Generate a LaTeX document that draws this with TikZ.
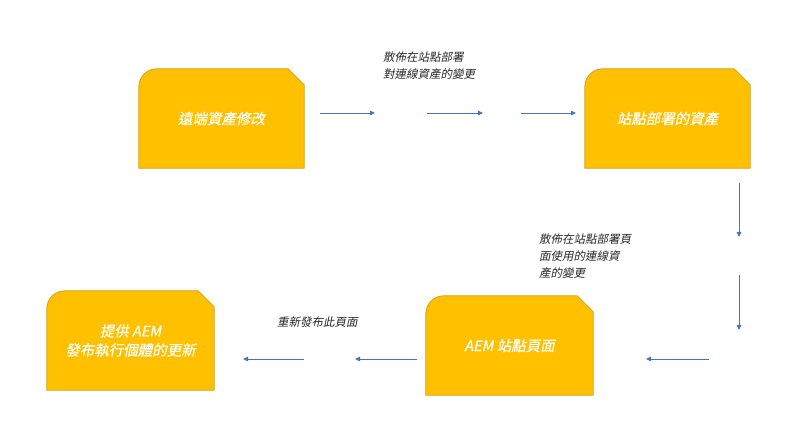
\documentclass[tikz,border=0pt]{standalone}
\usepackage{fontspec}
\newfontfamily\cjkit[FakeSlant=0.2,FakeBold=0.3]{Noto Sans CJK TC}
\newfontfamily\cjklb[FakeSlant=0.2]{Noto Sans CJK TC}
\usetikzlibrary{arrows.meta}
\definecolor{boxfill}{HTML}{FFC000}
\definecolor{boxline}{HTML}{D4A017}
\definecolor{arrowblue}{HTML}{4472C4}
\definecolor{labeltext}{HTML}{262626}
\tikzset{
  x=1pt, y=1pt,
  box/.style={minimum width=#1, minimum height=99pt, inner sep=0pt, align=center,
    text=white, font=\cjkit\fontsize{14.5}{19}\selectfont},
  boxshape/.style={fill=boxfill, draw=boxline, line width=0.8pt},
  flow/.style={draw=arrowblue, line width=0.8pt, -{Triangle[length=5pt,width=4.5pt]}},
  lbl/.style={text=labeltext, font=\cjklb\fontsize{11.5}{17}\selectfont, align=left, anchor=north west, inner sep=0pt},
}
\newcommand{\snipbox}[1]{%
  \path[boxshape] (#1.south west) -- ([yshift=-18pt]#1.north west)
    arc[start angle=180, end angle=90, radius=18pt]
    -- ([xshift=-16pt]#1.north east) -- ([yshift=-16pt]#1.north east)
    -- (#1.south east) -- cycle;}
\begin{document}
\begin{tikzpicture}
\useasboundingbox (0,0) rectangle (810,420);
% nodes (text only, shapes drawn below)
\node[box=165pt] (remote) at (221.5,301.5) {};
\node[box=165pt] (site) at (667.5,301.5) {};
\node[box=167pt] (publish) at (130.5,79.5) {};
\node[box=167pt] (page) at (509.5,74.5) {};
\snipbox{remote}
\snipbox{site}
\snipbox{publish}
\snipbox{page}
\node[box=165pt] at (remote) {遠端資產修改};
\node[box=165pt] at (site) {站點部署的資產};
\node[box=167pt] at (publish) {提供 AEM\\發布執行個體的更新};
\node[box=167pt] at (page) {AEM 站點頁面};
% labels
\node[lbl] (l1) at (383,368) {散佈在站點部署\\對連線資產的變更};
\node[lbl] (l2) at (539,186) {散佈在站點部署頁\\面使用的連線資\\產的變更};
\node[lbl] (l3) at (277,103) {重新發布此頁面};
% connector end points
\coordinate (a1) at (320,307); \coordinate (a2) at (375,307);
\coordinate (a3) at (427,307); \coordinate (a4) at (483,307);
\coordinate (a5) at (521,307); \coordinate (a6) at (576,307);
\coordinate (b1) at (739,237); \coordinate (b2) at (739,183);
\coordinate (b3) at (739,145); \coordinate (b4) at (739,90);
\coordinate (c1) at (709,61); \coordinate (c2) at (646,61);
\coordinate (c3) at (417,61); \coordinate (c4) at (355,61);
\coordinate (c5) at (304,61); \coordinate (c6) at (243,61);
\draw[flow] (a1) -- (a2);
\draw[flow] (a3) -- (a4);
\draw[flow] (a5) -- (a6);
\draw[flow] (b1) -- (b2);
\draw[flow] (b3) -- (b4);
\draw[flow] (c1) -- (c2);
\draw[flow] (c3) -- (c4);
\draw[flow] (c5) -- (c6);
\end{tikzpicture}
\end{document}
